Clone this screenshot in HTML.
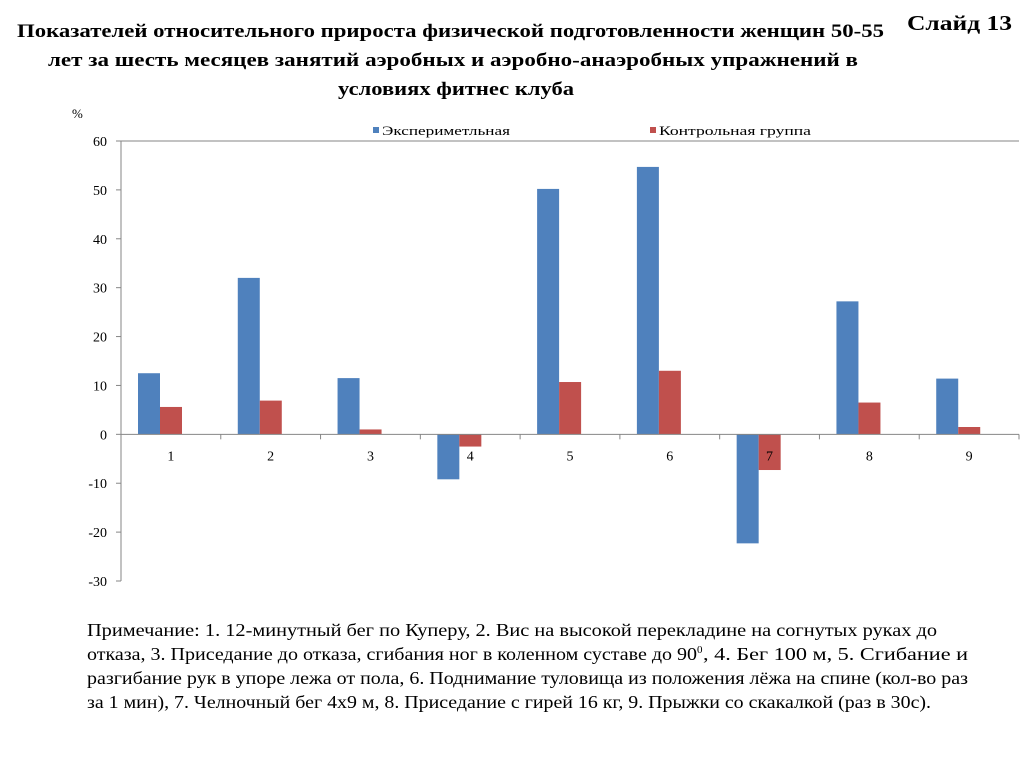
<!DOCTYPE html>
<html><head><meta charset="utf-8"><style>
body{margin:0;background:#fff;}
svg{display:block;font-family:"Liberation Serif","Noto Serif CJK SC",serif;}
</style></head><body>
<svg id="c" width="1024" height="767">
<text x="17" y="37" font-size="19" font-weight="bold" textLength="867" lengthAdjust="spacingAndGlyphs">Показателей относительного прироста физической подготовленности женщин 50-55</text>
<text x="48" y="66" font-size="19" font-weight="bold" textLength="810" lengthAdjust="spacingAndGlyphs">лет  за шесть месяцев занятий аэробных и аэробно-анаэробных упражнений в</text>
<text x="338" y="95" font-size="19" font-weight="bold" textLength="236" lengthAdjust="spacingAndGlyphs">условиях фитнес клуба</text>
<text x="907" y="30" font-size="21" font-weight="bold" textLength="105" lengthAdjust="spacingAndGlyphs">Слайд  13</text>
<text x="72" y="118" font-size="13">%</text>
<rect x="373" y="127" width="6" height="6" fill="#4f81bd"/>
<text x="382" y="135" font-size="13" textLength="128" lengthAdjust="spacingAndGlyphs">Экспериметльная</text>
<rect x="650" y="127" width="6" height="6" fill="#c0504d"/>
<text x="659" y="135" font-size="13" textLength="152" lengthAdjust="spacingAndGlyphs">Контрольная группа</text>
<g id="plot"></g>
<g font-size="18" fill="#000">
<text x="87" y="636" textLength="850" lengthAdjust="spacingAndGlyphs">Примечание:  1. 12-минутный бег по Куперу, 2. Вис на  высокой перекладине на согнутых руках до</text>
<text x="87" y="660" textLength="610" lengthAdjust="spacingAndGlyphs">отказа, 3. Приседание до отказа, сгибания ног в коленном суставе до 90</text>
<text x="697" y="653" font-size="11">0</text>
<text x="703" y="660" textLength="265" lengthAdjust="spacingAndGlyphs">, 4. Бег 100 м, 5. Сгибание и</text>
<text x="87" y="684" textLength="881" lengthAdjust="spacingAndGlyphs">разгибание рук в упоре лежа от пола, 6. Поднимание туловища из положения лёжа на спине (кол-во раз</text>
<text x="87" y="708" textLength="844" lengthAdjust="spacingAndGlyphs">за 1 мин), 7. Челночный бег 4х9 м, 8. Приседание с гирей 16 кг, 9. Прыжки со скакалкой (раз в 30с).</text>
</g>
</svg>
<script>
const categories=["1","2","3","4","5","6","7","8","9"];
const experimental=[12.5,32,11.5,-9.2,50.2,54.7,-22.3,27.2,11.4];
const control=[5.6,6.9,1,-2.5,10.7,13,-7.3,6.5,1.5];
const yTicks=[60,50,40,30,20,10,0,-10,-20,-30];
const NS="http://www.w3.org/2000/svg";
const g=document.getElementById('plot');
const X0=121,X1=1019,Y60=141,Y_30=581;
const y=v=>Y60+(60-v)*(Y_30-Y60)/90;
const cw=(X1-X0)/categories.length;
const x=i=>X0+i*cw;
function mk(t,a){const e=document.createElementNS(NS,t);for(const k in a)e.setAttribute(k,a[k]);g.appendChild(e);return e;}
let e=mk('line',{x1:X0,x2:X1,y1:Y60,y2:Y60,stroke:'#868686'});


e=mk('line',{x1:X0,x2:X0,y1:Y60,y2:Y_30,stroke:'#868686'});


yTicks.forEach(v=>{
 const t=mk('line',{x1:X0-5,x2:X0,y1:y(v),y2:y(v),stroke:'#868686'});
 
 
 const l=mk('text',{x:X0-14,y:y(v)+5,'text-anchor':'end','font-size':14});
 l.textContent=v;
 
 
});
categories.forEach((c,i)=>{
 [[experimental,'#4f81bd',17,'bar-experimental-'],[control,'#c0504d',39,'bar-control-']].forEach(([arr,col,off,nm])=>{
  const v=arr[i];const top=Math.min(y(v),y(0));
  const r=mk('rect',{x:x(i)+off,y:top,width:22,height:Math.abs(y(v)-y(0)),fill:col});
  
  
 });
 const l=mk('text',{x:x(i)+cw/2,y:y(0)+26,'text-anchor':'middle','font-size':14});
 l.textContent=c;
 
 
});
e=mk('line',{x1:X0,x2:X1,y1:y(0),y2:y(0),stroke:'#868686'});


categories.forEach((c,i)=>{
 const t=mk('line',{x1:x(i+1),x2:x(i+1),y1:y(0),y2:y(0)+5,stroke:'#868686'});
 
 
});
</script>
</body></html>
